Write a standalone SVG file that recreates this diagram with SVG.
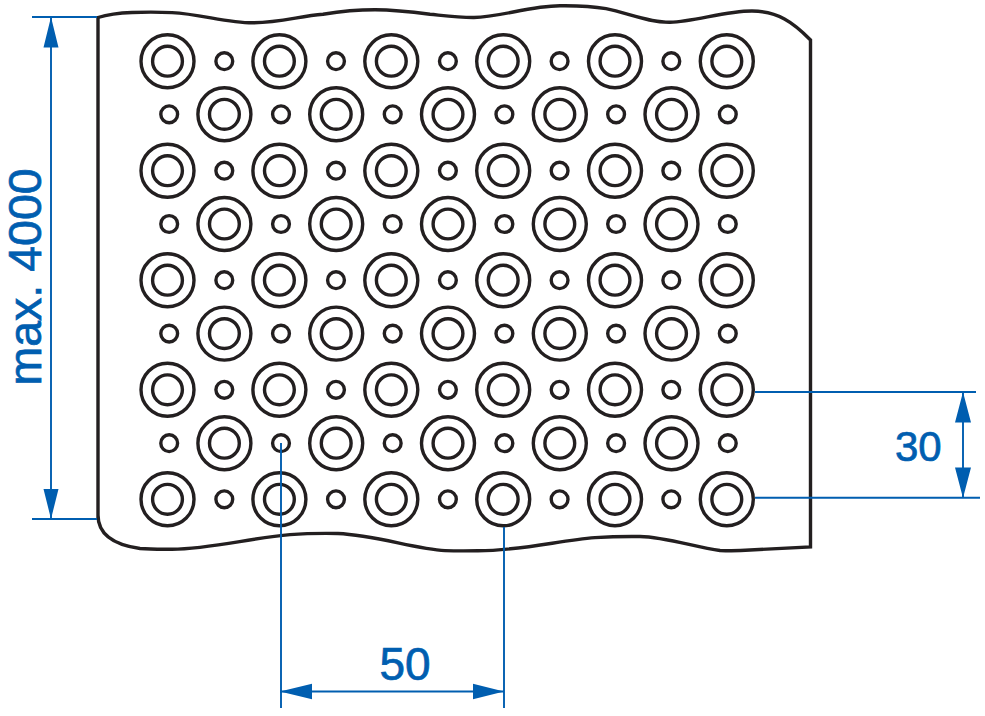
<svg xmlns="http://www.w3.org/2000/svg" width="985" height="716" viewBox="0 0 985 716">
<style>
.k{fill:none;stroke:#231f20;stroke-width:3.4}
.b{fill:none;stroke:#005eb0;stroke-width:1.9}
.a{fill:#005eb0;stroke:none}
.t{font-family:"Liberation Sans",Arial,sans-serif;font-size:46px;fill:#005eb0;stroke:#005eb0;stroke-width:.7}
</style>
<defs>
<g id="big" class="k"><circle r="26.5"/><circle r="14.9"/></g>
<circle id="sm" class="k" r="8.4"/>
<g id="rowA"><use href="#big" x="167.5"/><use href="#sm" x="224.3"/><use href="#big" x="279.4"/><use href="#sm" x="336"/><use href="#big" x="391.3"/><use href="#sm" x="447.9"/><use href="#big" x="503.2"/><use href="#sm" x="559.6"/><use href="#big" x="615"/><use href="#sm" x="671.3"/><use href="#big" x="726.8"/></g>
<g id="rowB"><use href="#sm" x="169.2"/><use href="#big" x="224.4"/><use href="#sm" x="281"/><use href="#big" x="336.2"/><use href="#sm" x="392.7"/><use href="#big" x="448"/><use href="#sm" x="504.4"/><use href="#big" x="559.8"/><use href="#sm" x="616.1"/><use href="#big" x="671.5"/><use href="#sm" x="727.8"/></g>
</defs>
<rect width="985" height="716" fill="#fff"/>
<g id="plate">
<path class="k" d="M98 519V17.5C106 15 118 13 132 12.5C146 12 158 12 172 12.6C200 14 228 23 253 22.8C280 22.5 300 16 323 14.2C340 11.5 355 9.8 375 9.8C395 10 412 12 430 14.3C445 15.8 458 17.6 474 17.5C500 17 530 6 560 5.8C578 5.6 592 6.2 606 8.7C628 13 648 22.5 670 22.3C695 21.5 725 11 752 11C778 11.5 793 22 810.5 40V547L750 550C738 551 730 551 720 550.5C695 547 665 537 640 536.5C625 536.3 612 536.5 595 537.6C560 540 525 550.5 478 550.8C465 551 455 551 445 550.6C415 549 375 535 338 533.5C320 533.2 305 533.5 290 534.6C250 538 210 549 172 549.2C162 549.3 150 549.3 140 548.5C115 545 98 535 98 515"/>
</g>
<g id="perforations">
<use href="#rowA" y="61.2"/><use href="#rowB" y="114.3"/>
<use href="#rowA" y="170.7"/><use href="#rowB" y="224"/>
<use href="#rowA" y="280.2"/><use href="#rowB" y="333.6"/>
<use href="#rowA" y="389.8"/><use href="#rowB" y="443.2"/>
<use href="#rowA" y="499.3"/>
</g>
<g id="dimensions">
<path class="b" d="M32 17H97M32 519H97M51 17V519"/>
<path class="a" d="M51 17L58.5 47.5H43.5ZM51 519L43.5 489H58.5Z"/>
<path class="b" d="M755 392H976M755 497.8H980M963 392V498"/>
<path class="a" d="M963 392L971 422.6H955ZM963 498L955 467.4H971Z"/>
<path class="b" d="M281 443V708M504 527V708M280 691.5H504"/>
<path class="a" d="M280 691.5L312 683.7V699.3ZM504 691.5L473 699.3V683.7Z"/>
<text class="t" x="379.5" y="680">50</text>
<text class="t" style="font-size:42px" x="895" y="461">30</text>
<text class="t" style="font-size:46.5px" transform="translate(41 385.5) rotate(-90)">max. 4000</text>
</g>
</svg>
